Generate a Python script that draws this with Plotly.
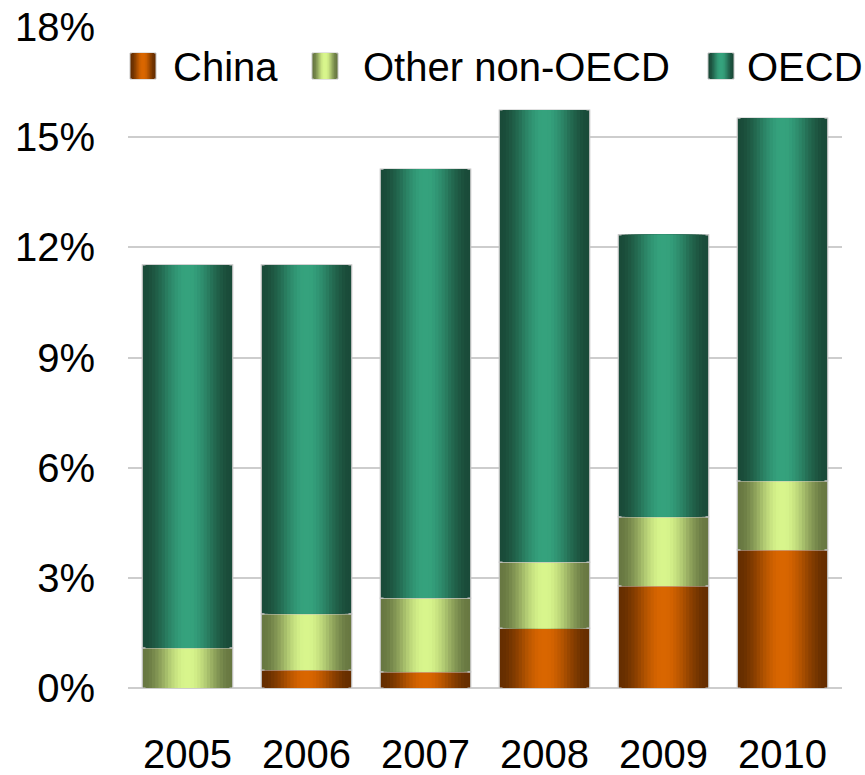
import plotly.graph_objects as go

years = ["2005", "2006", "2007", "2008", "2009", "2010"]
china = [0.0, 0.49, 0.44, 1.63, 2.78, 3.76]
other_non_oecd = [1.09, 1.53, 2.01, 1.80, 1.88, 1.88]
oecd = [10.43, 9.50, 11.68, 12.31, 7.68, 9.88]
series_names = ["China", "Other non-OECD", "OECD"]
y_ticks = [0, 3, 6, 9, 12, 15, 18]

# style: (edge colour, centre colour)
palette = {
    "China": ((0x66, 0x2e, 0x00), (0xd9, 0x66, 0x00)),
    "Other non-OECD": ((0x68, 0x78, 0x42), (0xd8, 0xf5, 0x8c)),
    "OECD": ((0x1a, 0x4b, 0x39), (0x35, 0xa2, 0x7d)),
}

def mix(c1, c2, t):
    return "rgb(%d,%d,%d)" % tuple(round(a + (b - a) * t) for a, b in zip(c1, c2))

def ease(s):
    return s * s * (3 - 2 * s)

BAR_W = 0.76
N_LAYERS = 14

fig = go.Figure()
values = {"China": china, "Other non-OECD": other_non_oecd, "OECD": oecd}
base = [0.0] * len(years)
for name in series_names:
    vals = values[name]
    edge, centre = palette[name]
    for k in range(N_LAYERS):
        w = BAR_W * (1 - k / N_LAYERS)
        t = ease(k / (N_LAYERS - 1))
        fig.add_trace(go.Bar(
            x=years, y=vals, base=base, width=w,
            marker=dict(color=mix(edge, centre, t),
                        line=dict(color="#c4c4c4", width=1.2 if k == 0 else 0)),
            name=name, showlegend=False, hoverinfo="skip",
        ))
    base = [b + v for b, v in zip(base, vals)]

# plot-area geometry (pixels)
L, R, T, B = 128, 23, 27, 87
W_FIG, H_FIG = 865, 775
PW, PH = W_FIG - L - R, H_FIG - T - B

def px_x(p):
    return (p - L) / PW

def px_y(p):
    return (H_FIG - B - p) / PH

# manual legend (swatch left edge px, text centre px)
legend_pos = [(130, 225), (312, 516), (708, 805)]
shapes = []
annotations = []
for name, (sx, tx) in zip(series_names, legend_pos):
    edge, centre = palette[name]
    size = 26
    n = 7
    for k in range(n):
        inset = (size / 2) * k / n
        t = ease(k / (n - 1))
        shapes.append(dict(
            type="rect", xref="paper", yref="paper",
            x0=px_x(sx + inset), x1=px_x(sx + size - inset),
            y0=px_y(53 + size), y1=px_y(53),
            fillcolor=mix(edge, centre, t),
            line=dict(color="#c4c4c4", width=1 if k == 0 else 0),
            layer="above",
        ))
        if k == 0:
            continue
    annotations.append(dict(
        x=px_x(tx), y=px_y(67), xref="paper", yref="paper",
        text=name, showarrow=False, xanchor="center", yanchor="middle",
        font=dict(size=40, color="black", family="Liberation Sans, Arial, sans-serif"),
    ))

fig.update_layout(
    width=W_FIG, height=H_FIG,
    margin=dict(l=L, r=R, t=T, b=B, autoexpand=False),
    barmode="overlay",
    bargap=1 - BAR_W,
    paper_bgcolor="white", plot_bgcolor="white",
    showlegend=False,
    font=dict(family="Liberation Sans, Arial, sans-serif", size=40, color="black"),
    shapes=shapes,
    annotations=annotations,
    xaxis=dict(type="category", categoryorder="array", categoryarray=years,
               automargin=False,
               showgrid=False, showline=False, zeroline=False, ticks="",
               tickfont=dict(size=40), ticklabelstandoff=39),
    yaxis=dict(range=[0, 18], tickvals=y_ticks, automargin=False,
               ticktext=["%d%%" % v for v in y_ticks],
               showgrid=True, gridcolor="#cdcdcd", gridwidth=1.5,
               zeroline=True, zerolinecolor="#cdcdcd", zerolinewidth=1.5,
               showline=False, ticks="", tickfont=dict(size=40),
               ticklabelstandoff=32),
)

fig.write_html("out.html", config={"displayModeBar": False},
               post_script="document.body.style.margin='0';")
